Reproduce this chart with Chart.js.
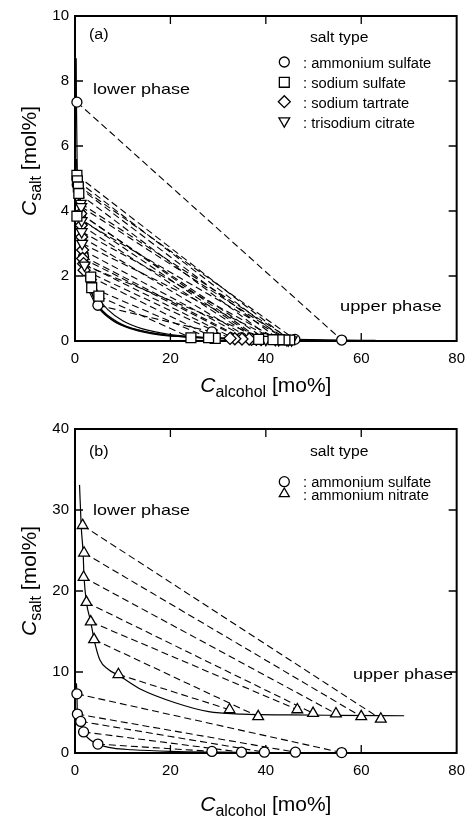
<!DOCTYPE html>
<html>
<head>
<meta charset="utf-8">
<script src="https://cdn.jsdelivr.net/npm/chart.js@4.4.1/dist/chart.umd.min.js"></script>
<style>
  html, body { margin: 0; padding: 0; background: #fff; }
  #wrap { position: relative; width: 474px; height: 818px; }
  canvas { position: absolute; left: 0; }
</style>
</head>
<body>
<div id="wrap">
  <canvas id="chartA" width="474" height="400" style="top:0"></canvas>
  <canvas id="chartB" width="474" height="418" style="top:400px"></canvas>
</div>
<script>
// tick values
const xTicks = [0, 20, 40, 60, 80];
const yTicksA = [0, 2, 4, 6, 8, 10];
const yTicksB = [0, 10, 20, 30, 40];

// ---- panel (a): lower phase / upper phase compositions, tie lines pair by index ----
const amSulfLowX = [0.4, 0.5, 1.2, 1.8, 4.8];
const amSulfLowY = [7.35, 4.8, 3.9, 2.6, 1.1];
const amSulfUpX = [55.9, 46.1, 39.7, 34.9, 28.7];
const amSulfUpY = [0.03, 0.05, 0.08, 0.1, 0.28];

const naSulfLowX = [0.4, 0.5, 0.7, 0.8, 0.4, 3.3, 3.5, 5.0];
const naSulfLowY = [5.10, 4.93, 4.74, 4.54, 3.84, 1.97, 1.64, 1.38];
const naSulfUpX = [45.0, 44.0, 42.8, 41.5, 38.5, 29.4, 28.0, 24.3];
const naSulfUpY = [0.03, 0.03, 0.04, 0.04, 0.05, 0.08, 0.1, 0.1];

const tartLowX = [1.2, 1.3, 1.4, 1.6, 1.6, 1.8, 1.9];
const tartLowY = [3.92, 3.56, 3.2, 2.8, 2.54, 2.38, 2.18];
const tartUpX = [39.0, 38.0, 37.0, 36.5, 35.0, 33.5, 32.5];
const tartUpY = [0.04, 0.05, 0.05, 0.06, 0.06, 0.07, 0.08];

const citLowX = [1.2, 1.3, 1.4, 1.4, 1.5, 2.0];
const citLowY = [4.23, 4.13, 3.7, 3.36, 3.0, 2.33];
const citUpX = [45.4, 44.7, 44.4, 42.7, 42.0, 40.0];
const citUpY = [0.03, 0.03, 0.04, 0.04, 0.05, 0.05];

// binodal curves (a)
const curveAmSulfX = [0.25, 0.3, 0.5, 1.2, 1.8, 3, 4.8, 8, 12, 18, 25, 35, 46, 56, 63];
const curveAmSulfY = [8.7, 7.35, 4.8, 3.9, 2.6, 1.7, 1.1, 0.62, 0.36, 0.18, 0.12, 0.08, 0.05, 0.03, 0.02];
const curveNaSulfX = [0.3, 0.5, 0.8, 1.5, 2.5, 3.4, 5.0, 7, 10, 14, 20, 28, 36, 45, 52];
const curveNaSulfY = [5.6, 4.9, 4.3, 3.3, 2.4, 1.8, 1.3, 0.95, 0.62, 0.38, 0.2, 0.1, 0.06, 0.03, 0.02];
const curveTartX = [0.8, 1.1, 1.3, 1.5, 1.8, 2.3, 3.2, 5, 8, 12, 18, 25, 33, 40];
const curveTartY = [4.5, 3.9, 3.4, 2.9, 2.4, 1.9, 1.45, 1.0, 0.62, 0.38, 0.2, 0.1, 0.06, 0.03];
const curveCitX = [0.9, 1.2, 1.4, 1.6, 2.0, 2.8, 4, 6, 9, 13, 19, 27, 36, 46];
const curveCitY = [4.8, 4.2, 3.6, 3.0, 2.4, 1.8, 1.3, 0.9, 0.58, 0.35, 0.19, 0.1, 0.05, 0.03];

// ---- panel (b) ----
const bAmSulfLowX = [0.4, 0.5, 1.2, 1.8, 4.8];
const bAmSulfLowY = [7.3, 4.8, 3.9, 2.6, 1.1];
const bAmSulfUpX = [55.9, 46.2, 39.7, 34.9, 28.7];
const bAmSulfUpY = [0.05, 0.1, 0.1, 0.1, 0.2];

const nitrLowX = [1.6, 1.9, 1.8, 2.4, 3.3, 4.0, 9.1];
const nitrLowY = [28.1, 24.7, 21.7, 18.6, 16.2, 14.0, 9.7];
const nitrUpX = [64.1, 60.0, 54.7, 49.9, 46.6, 38.4, 32.4];
const nitrUpY = [4.2, 4.5, 4.85, 4.9, 5.35, 4.5, 5.35];

const bCurveAmSulfX = [0.3, 0.4, 0.5, 1.2, 1.8, 3, 4.8, 8, 12, 20, 30, 40, 56, 60];
const bCurveAmSulfY = [8.6, 7.3, 4.8, 3.9, 2.6, 1.7, 1.1, 0.6, 0.4, 0.2, 0.1, 0.05, 0.03, 0.02];
const bCurveNitrX = [0.95, 1.3, 1.7, 1.9, 2.4, 3.3, 4.0, 5.2, 7, 9.1, 14, 21, 28, 35, 45, 55, 69];
const bCurveNitrY = [33.1, 28, 24.7, 21.7, 18.6, 16.2, 14, 11.5, 10.3, 9.6, 7.8, 6.2, 5.1, 4.8, 4.7, 4.65, 4.6];

const FONT = '"Liberation Sans", Arial, sans-serif';
Chart.defaults.font.family = FONT;

const pts = (xs, ys) => xs.map((x, i) => ({ x: x, y: ys[i] }));

function tieLines(lx, ly, ux, uy) {
    return lx.map((x, i) => ({
        data: [{ x: x, y: ly[i] }, { x: ux[i], y: uy[i] }],
        showLine: true, borderColor: '#000', borderWidth: 1.1, borderDash: [7, 4],
        pointRadius: 0, clip: false, order: 3
    }));
}

function curve(xs, ys) {
    return {
        data: pts(xs, ys), showLine: true, borderColor: '#000', borderWidth: 1.2,
        cubicInterpolationMode: 'monotone', pointRadius: 0, clip: false, order: 2
    };
}

// higher order = drawn underneath
function markers(lx, ly, ux, uy, style, r, rot, order) {
    return {
        data: pts(lx, ly).concat(pts(ux, uy)), showLine: false,
        pointStyle: style, pointRadius: r, pointRotation: rot || 0,
        pointBackgroundColor: '#fff', pointBorderColor: '#000', pointBorderWidth: 1.3,
        clip: false, order: order
    };
}

// text on canvas, slightly widened like the original figure
function txt(ctx, s, x, y, size, sx, italic) {
    ctx.save();
    ctx.translate(x, y);
    ctx.scale(sx, 1);
    ctx.font = (italic ? 'italic ' : '') + size + 'px ' + FONT;
    ctx.textAlign = 'left';
    ctx.textBaseline = 'alphabetic';
    ctx.fillStyle = '#000';
    ctx.fillText(s, 0, 0);
    ctx.restore();
}

function measure(ctx, s, size, italic) {
    ctx.font = (italic ? 'italic ' : '') + size + 'px ' + FONT;
    return ctx.measureText(s).width;
}

// "C" + subscript + rest, centered on (cx, cy) along baseline, rotated by ang
function axisTitle(ctx, cx, cy, ang, sub, rest) {
    const big = 21, small = 16;
    const w1 = measure(ctx, 'C', big, true), w2 = measure(ctx, sub, small), w3 = measure(ctx, rest, big);
    const total = w1 + w2 + w3;
    ctx.save();
    ctx.translate(cx, cy);
    ctx.rotate(ang);
    let x = -total / 2;
    txt(ctx, 'C', x, 0, big, 1, true); x += w1;
    txt(ctx, sub, x, 5, small, 1); x += w2;
    txt(ctx, rest, x, 0, big, 1);
    ctx.restore();
}

function marker(ctx, style, r, rot, x, y) {
    ctx.save();
    ctx.fillStyle = '#fff';
    ctx.strokeStyle = '#000';
    ctx.lineWidth = 1.3;
    Chart.helpers.drawPoint(ctx, { pointStyle: style, radius: r, rotation: rot || 0, borderWidth: 1.3 }, x, y);
    ctx.restore();
}

const panelText = {
    chartA: {
        xTitleY: 392, yTitleMid: 161,
        notes: [['(a)', 89, 39, 14, 1.15], ['lower phase', 93, 94, 15, 1.2], ['upper phase', 340, 311, 15, 1.22],
                ['salt type', 310, 42, 14, 1.12]],
        legend: [['circle', 5, 0, 62, ': ammonium sulfate', 68], ['rect', 7, 0, 82.3, ': sodium sulfate', 88],
                 ['rectRot', 6, 0, 101.7, ': sodium tartrate', 108], ['triangle', 6.2, 180, 121, ': trisodium citrate', 128]]
    },
    chartB: {
        xTitleY: 411, yTitleMid: 181,
        notes: [['(b)', 89, 55.5, 14, 1.15], ['lower phase', 93, 115, 15, 1.2], ['upper phase', 353, 279, 15, 1.2],
                ['salt type', 310, 56, 14, 1.12]],
        legend: [['circle', 5, 0, 81.7, ': ammonium sulfate', 86.7], ['triangle', 5.8, 0, 93.8, ': ammonium nitrate', 99.5]]
    }
};

const framePlugin = {
    id: 'frame',
    beforeDatasetsDraw(chart) {
        const ctx = chart.ctx, a = chart.chartArea, sx = chart.scales.x, sy = chart.scales.y;
        ctx.save();
        ctx.strokeStyle = '#000';
        ctx.lineWidth = 1.3;
        ctx.beginPath();
        sx.ticks.forEach(t => {
            const px = sx.getPixelForValue(t.value);
            if (px <= a.left + 1 || px >= a.right - 1) return;
            ctx.moveTo(px, a.bottom); ctx.lineTo(px, a.bottom - 8);
            ctx.moveTo(px, a.top); ctx.lineTo(px, a.top + 8);
        });
        sy.ticks.forEach(t => {
            const py = sy.getPixelForValue(t.value);
            if (py <= a.top + 1 || py >= a.bottom - 1) return;
            ctx.moveTo(a.left, py); ctx.lineTo(a.left + 8, py);
            ctx.moveTo(a.right, py); ctx.lineTo(a.right - 8, py);
        });
        ctx.stroke();
        ctx.lineWidth = 2;
        ctx.strokeRect(a.left, a.top, a.right - a.left, a.bottom - a.top);
        ctx.restore();
    },
    afterDraw(chart) {
        const ctx = chart.ctx, a = chart.chartArea;
        const p = panelText[chart.canvas.id];
        p.notes.forEach(n => txt(ctx, n[0], n[1], n[2], n[3], n[4]));
        p.legend.forEach(l => {
            marker(ctx, l[0], l[1], l[2], 284.3, l[3]);
            txt(ctx, l[4], 303, l[5], 14, 1.05);
        });
        axisTitle(ctx, (a.left + a.right) / 2, p.xTitleY, 0, 'alcohol', ' [mo%]');
        axisTitle(ctx, 36, p.yTitleMid, -Math.PI / 2, 'salt', ' [mol%]');
    }
};

function makeChart(id, datasets, yMax, yTicks, padTop, padRight, xAxisH) {
    return new Chart(document.getElementById(id), {
        type: 'scatter',
        data: { datasets: datasets },
        options: {
            responsive: false,
            animation: false,
            devicePixelRatio: 1,
            layout: { padding: { top: padTop, right: padRight, left: 0, bottom: 0 } },
            plugins: { legend: { display: false }, tooltip: { enabled: false } },
            scales: {
                x: {
                    type: 'linear', min: 0, max: 80,
                    afterBuildTicks: s => { s.ticks = xTicks.map(v => ({ value: v })); },
                    afterFit: s => { s.height = xAxisH; },
                    grid: { display: false, drawTicks: false },
                    border: { display: false },
                    ticks: { color: '#000', font: { size: 15 }, padding: 9, maxRotation: 0, autoSkip: false }
                },
                y: {
                    type: 'linear', min: 0, max: yMax,
                    afterBuildTicks: s => { s.ticks = yTicks.map(v => ({ value: v })); },
                    afterFit: s => { s.width = 75; },
                    grid: { display: false, drawTicks: false },
                    border: { display: false },
                    ticks: { color: '#000', font: { size: 15 }, padding: 6, autoSkip: false }
                }
            }
        },
        plugins: [framePlugin]
    });
}

const dsA = [].concat(
    tieLines(amSulfLowX, amSulfLowY, amSulfUpX, amSulfUpY),
    tieLines(naSulfLowX, naSulfLowY, naSulfUpX, naSulfUpY),
    tieLines(tartLowX, tartLowY, tartUpX, tartUpY),
    tieLines(citLowX, citLowY, citUpX, citUpY),
    [curve(curveAmSulfX, curveAmSulfY), curve(curveNaSulfX, curveNaSulfY),
     curve(curveTartX, curveTartY), curve(curveCitX, curveCitY)],
    [markers(amSulfLowX, amSulfLowY, amSulfUpX, amSulfUpY, 'circle', 5, 0, 1.4),
     markers(naSulfLowX, naSulfLowY, naSulfUpX, naSulfUpY, 'rect', 7, 0, 1.1),
     markers(tartLowX, tartLowY, tartUpX, tartUpY, 'rectRot', 6, 0, 1.3),
     markers(citLowX, citLowY, citUpX, citUpY, 'triangle', 6.2, 180, 1.2)]
);

const dsB = [].concat(
    tieLines(bAmSulfLowX, bAmSulfLowY, bAmSulfUpX, bAmSulfUpY),
    tieLines(nitrLowX, nitrLowY, nitrUpX, nitrUpY),
    [curve(bCurveAmSulfX, bCurveAmSulfY), curve(bCurveNitrX, bCurveNitrY)],
    [markers(bAmSulfLowX, bAmSulfLowY, bAmSulfUpX, bAmSulfUpY, 'circle', 5, 0, 1.1),
     markers(nitrLowX, nitrLowY, nitrUpX, nitrUpY, 'triangle', 6.2, 0, 1.1)]
);

makeChart('chartA', dsA, 10, yTicksA, 16, 8, 59);
makeChart('chartB', dsB, 40, yTicksB, 29, 9, 65);
</script>
</body>
</html>
